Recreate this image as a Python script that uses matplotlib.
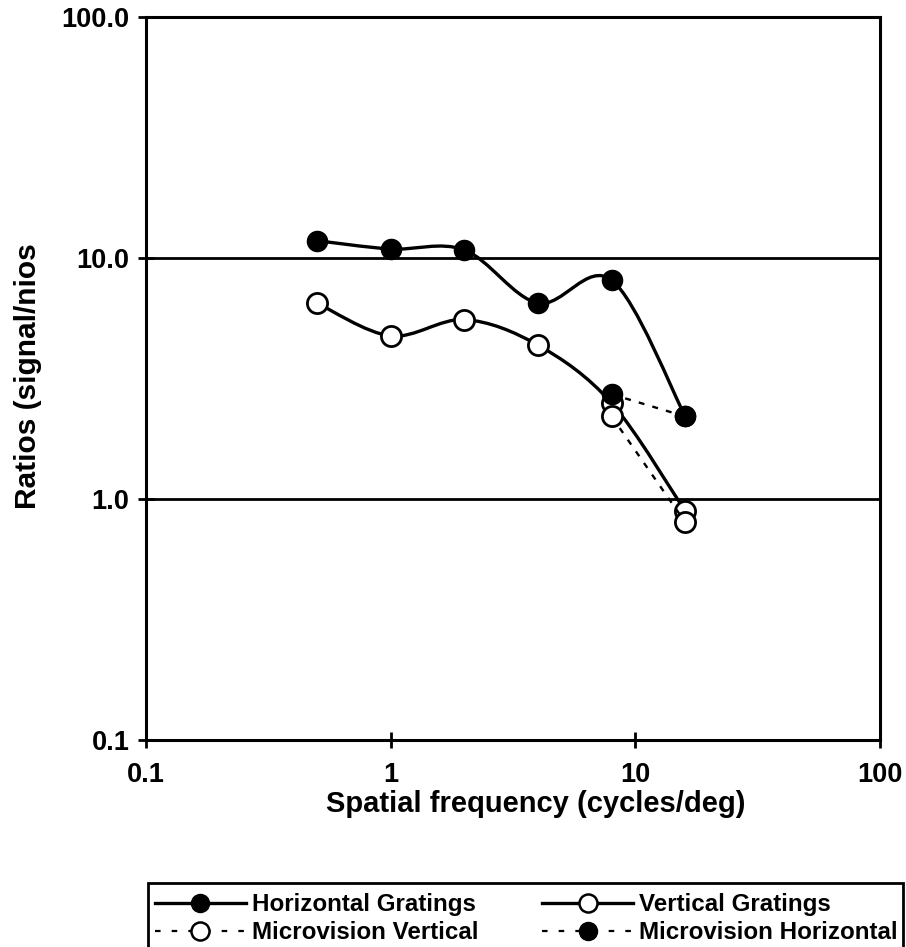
import numpy as np
import matplotlib
matplotlib.use('Agg')
import matplotlib.pyplot as plt
import matplotlib.ticker as ticker
from matplotlib.path import Path
from matplotlib.patches import PathPatch, Rectangle
from matplotlib.lines import Line2D

plt.rcParams['font.family'] = ['Liberation Sans', 'DejaVu Sans']
plt.rcParams['font.weight'] = 'bold'

# data
freq = [0.5, 1, 2, 4, 8, 16]
horizontal = [11.8, 10.9, 10.8, 6.5, 8.1, 2.2]
vertical = [6.5, 4.75, 5.55, 4.35, 2.5, 0.89]
micro_freq = [8, 16]
micro_vertical = [2.2, 0.80]
micro_horizontal = [2.72, 2.2]

x_ticks = [0.1, 1, 10, 100]
x_labels = ['0.1', '1', '10', '100']
y_ticks = [0.1, 1, 10, 100]
y_labels = ['0.1', '1.0', '10.0', '100.0']


def smooth_path(xs, ys):
    # Excel style smoothed line: Catmull-Rom bezier in log space
    lx = np.log10(xs)
    ly = np.log10(ys)
    pts = np.column_stack([lx, ly])
    n = len(pts)
    verts = [pts[0]]
    codes = [Path.MOVETO]
    for i in range(n - 1):
        p0 = pts[max(i - 1, 0)]
        p1 = pts[i]
        p2 = pts[i + 1]
        p3 = pts[min(i + 2, n - 1)]
        c1 = p1 + (p2 - p0) / 6.0
        c2 = p2 - (p3 - p1) / 6.0
        verts += [c1, c2, p2]
        codes += [Path.CURVE4] * 3
    verts = 10 ** np.array(verts)
    return Path(verts, codes)


W, H = 906, 947
fig = plt.figure(figsize=(W / 100, H / 100), dpi=100)
ax = fig.add_axes([146 / W, 1 - 740 / H, (880 - 146) / W, (740 - 17) / H])
ax.set_xscale('log')
ax.set_yscale('log')
ax.set_xlim(0.1, 100)
ax.set_ylim(0.1, 100)

lw = 2.4
ms = 14.5
dash = (0, (2.5, 3.5))

# smoothed solid lines
for ys in (horizontal, vertical):
    ax.add_patch(PathPatch(smooth_path(freq, ys), facecolor='none',
                           edgecolor='black', lw=lw, zorder=3))

ax.plot(freq, horizontal, 'o', color='black', ms=ms, zorder=4)
ax.plot(freq, vertical, 'o', mfc='white', mec='black', mew=2, ms=ms, zorder=4)
ax.plot(micro_freq, micro_vertical, color='black', lw=1.7, ls=dash,
        marker='o', mfc='white', mec='black', mew=2, ms=ms, zorder=5)
ax.plot(micro_freq, micro_horizontal, color='black', lw=1.7, ls=dash,
        marker='o', mfc='black', mec='black', ms=ms, zorder=6)

ax.set_xticks(x_ticks)
ax.set_xticklabels(x_labels)
ax.set_yticks(y_ticks)
ax.set_yticklabels(y_labels)
ax.xaxis.set_minor_locator(ticker.NullLocator())
ax.yaxis.set_minor_locator(ticker.NullLocator())
ax.tick_params(axis='both', which='major', direction='inout', length=12,
               width=2, labelsize=19.5, colors='black')
ax.tick_params(axis='x', pad=10)
ax.tick_params(axis='y', pad=6)
for lab in ax.get_xticklabels() + ax.get_yticklabels():
    lab.set_fontweight('bold')

ax.yaxis.grid(True, color='black', lw=2)
ax.set_axisbelow(True)
for sp in ax.spines.values():
    sp.set_linewidth(2.2)
    sp.set_color('black')

fig.text(536 / W, 1 - 804 / H, 'Spatial frequency (cycles/deg)', ha='center',
         va='center', fontsize=21, fontweight='bold')
fig.text(28 / W, 1 - 376 / H, 'Ratios (signal/nios', ha='center', va='center',
         rotation=90, fontsize=21.5, fontweight='bold')

handles = [
    Line2D([], [], color='black', lw=lw, marker='o', ms=13),
    Line2D([], [], color='black', lw=1.6, ls=(0, (2.5, 5)), marker='o',
           mfc='white', mec='black', mew=1.8, ms=13),
    Line2D([], [], color='black', lw=lw, marker='o', mfc='white', mec='black',
           mew=1.8, ms=13),
    Line2D([], [], color='black', lw=1.6, ls=(0, (2.5, 5)), marker='o', ms=13),
]
labels = ['Horizontal Gratings', 'Microvision Vertical', 'Vertical Gratings',
          'Microvision Horizontal']
leg = fig.legend(handles, labels, loc='upper left', ncol=2,
                 bbox_to_anchor=(155 / W, 1 - 893 / H),
                 fontsize=17.4, frameon=False, handlelength=3.75,
                 handletextpad=0.25, columnspacing=2.65, labelspacing=0.22,
                 borderpad=0, borderaxespad=0)
for t in leg.get_texts():
    t.set_fontweight('bold')

# legend box, its bottom edge runs off the figure like in the scan
fig.patches.append(Rectangle((148 / W, -0.05), (903 - 148) / W, 0.05 + 1 - 883 / H,
                             transform=fig.transFigure, fill=False,
                             edgecolor='black', lw=2))

fig.savefig('out.png', dpi=100)
